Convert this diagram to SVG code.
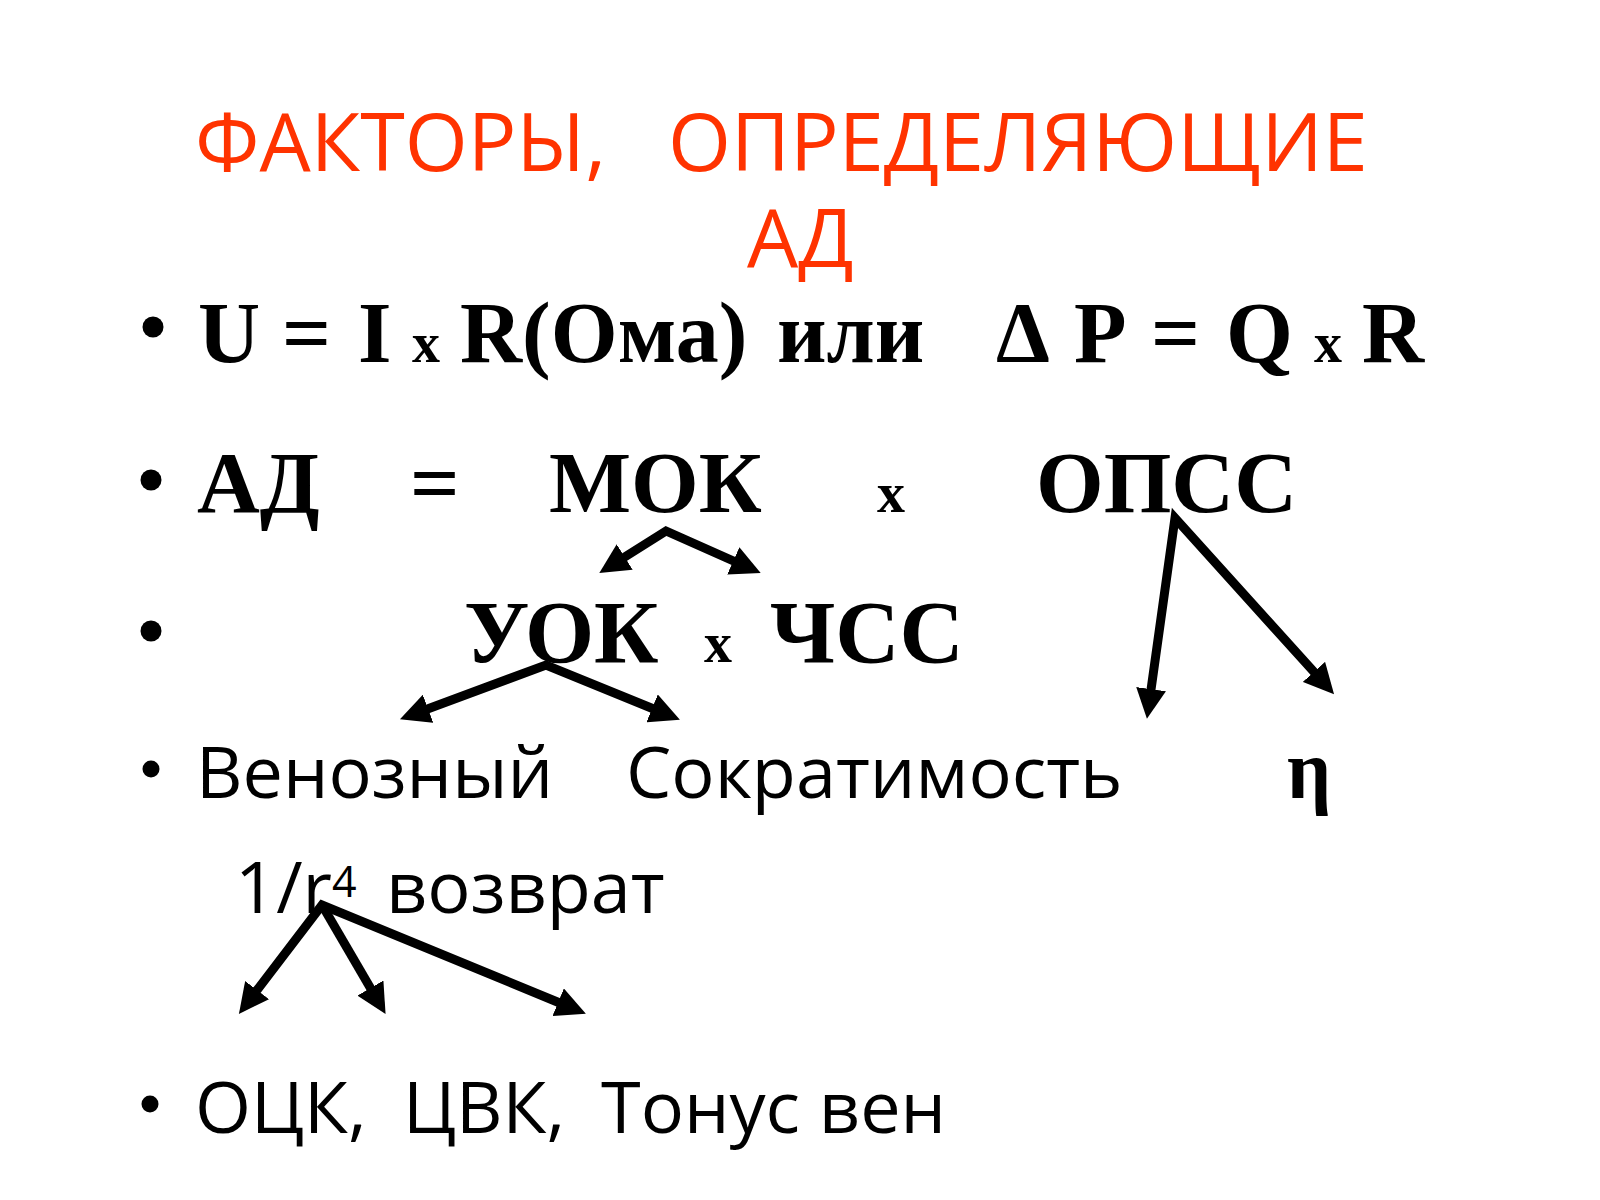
<svg xmlns="http://www.w3.org/2000/svg" width="1600" height="1200" viewBox="0 0 1600 1200">
  <defs>
    <marker id="ah" viewBox="0 0 30 30" refX="15" refY="15" markerWidth="30" markerHeight="30" markerUnits="userSpaceOnUse" orient="auto-start-reverse">
      <path d="M0,0 L30,15 L0,30 z" fill="#000"/>
    </marker>
    <style>
      .title { font-family: "Open Sans", "Noto Sans", "DejaVu Sans", sans-serif; font-size: 81px; fill: #FF3300; }
      .f { font-family: "Liberation Serif", "DejaVu Serif", serif; font-weight: bold; font-size: 86px; fill: #000; }
      .f2 { font-family: "Liberation Serif", "DejaVu Serif", serif; font-weight: bold; font-size: 87px; fill: #000; }
      .f3 { font-family: "Liberation Serif", "DejaVu Serif", serif; font-weight: bold; font-size: 89px; fill: #000; }
      .fx { font-family: "Liberation Serif", "DejaVu Serif", serif; font-weight: bold; font-size: 56px; fill: #000; }
      .s { font-family: "Open Sans", "Noto Sans", "DejaVu Sans", sans-serif; font-size: 72px; fill: #000; }
      .sup { font-family: "Open Sans", "Noto Sans", "DejaVu Sans", sans-serif; font-size: 43px; fill: #000; }
      .eta { font-family: "Liberation Serif", "DejaVu Serif", serif; font-weight: bold; font-size: 84px; fill: #000; }
      .b { fill: #000; }
      .c { fill: none; stroke: #000; stroke-width: 9; stroke-linejoin: miter; stroke-linecap: butt; marker-end: url(#ah); }
      .c2 { fill: none; stroke: #000; stroke-width: 9; stroke-linejoin: miter; stroke-linecap: butt; marker-start: url(#ah); marker-end: url(#ah); }
    </style>
  </defs>
  <rect width="1600" height="1200" fill="#fff"/>

  <g id="title">
    <text class="title" x="195" y="171">ФАКТОРЫ,</text>
    <text class="title" x="668" y="171">ОПРЕДЕЛЯЮЩИЕ</text>
    <text class="title" x="747" y="267">АД</text>
  </g>

  <g id="bullets">
    <circle class="b" cx="153" cy="327" r="10.5"/>
    <circle class="b" cx="151" cy="480" r="10.5"/>
    <circle class="b" cx="151" cy="631" r="10.5"/>
    <circle class="b" cx="151" cy="769" r="8.5"/>
    <circle class="b" cx="150" cy="1104" r="8.5"/>
  </g>

  <g id="ohm-law">
    <text class="f" x="198" y="362">U</text>
    <text class="f" x="282" y="362">=</text>
    <text class="f" x="358" y="362">I</text>
    <text class="fx" x="412" y="362">x</text>
    <text class="f" x="460" y="362">R(Ома)</text>
    <text class="f" x="777" y="362">или</text>
    <text class="f" x="996" y="362">Δ</text>
    <text class="f" x="1074" y="362">P</text>
    <text class="f" x="1151" y="362">=</text>
    <text class="f" x="1226" y="362">Q</text>
    <text class="fx" x="1314" y="362">x</text>
    <text class="f" x="1362" y="362">R</text>
  </g>

  <g id="node-AD">
    <text class="f2" x="197" y="512">АД</text>
    <text class="f2" x="410" y="512">=</text>
  </g>
  <g id="node-MOK">
    <text class="f2" x="549" y="512">МОК</text>
  </g>
  <text class="fx" x="877" y="512">x</text>
  <g id="node-OPSS">
    <text class="f2" x="1036" y="512">ОПСС</text>
  </g>

  <g id="node-UOK">
    <text class="f3" x="464" y="662">УОК</text>
  </g>
  <text class="fx" x="704" y="662">x</text>
  <g id="node-CHSS">
    <text class="f3" x="770" y="662">ЧСС</text>
  </g>

  <g id="node-venous">
    <text class="s" x="196" y="798">Венозный</text>
  </g>
  <g id="node-contractility">
    <text class="s" x="626" y="798">Сократимость</text>
  </g>
  <g id="node-eta">
    <text class="eta" x="1287" y="798" textLength="44" lengthAdjust="spacingAndGlyphs">η</text>
  </g>

  <g id="node-r4">
    <text class="s" x="235" y="913">1/r</text>
    <text class="sup" x="332" y="897">4</text>
  </g>
  <g id="node-return">
    <text class="s" x="386" y="913">возврат</text>
  </g>

  <g id="node-bottom">
    <text class="s" x="195" y="1133">ОЦК,</text>
    <text class="s" x="403" y="1133">ЦВК,</text>
    <text class="s" x="601" y="1133">Тонус вен</text>
  </g>

  <g id="connectors">
    <path class="c2" d="M612,565 L666,531 L747,567"/>
    <path class="c2" d="M414,714 L546,665 L666,714"/>
    <path class="c2" d="M1149,704 L1175,518 L1324,683"/>
    <path class="c2" d="M248,1002 L322,905 L572,1008"/>
    <path class="c" d="M322,905 L378,1001"/>
  </g>
</svg>
